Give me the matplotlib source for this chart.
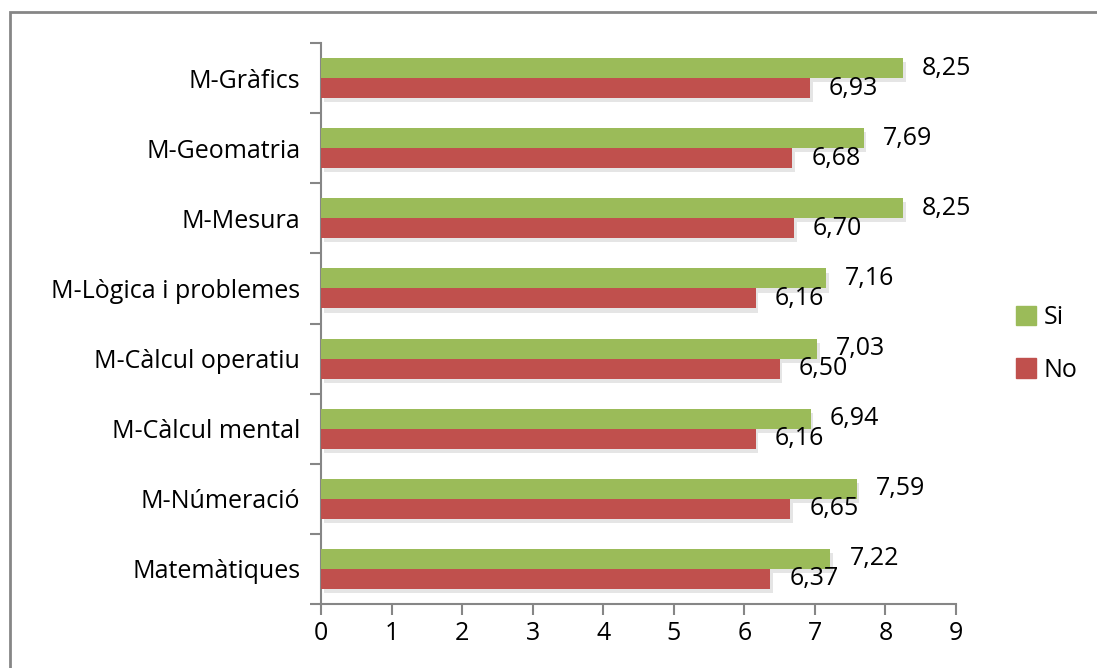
import numpy as np
import matplotlib.pyplot as plt
import matplotlib.patheffects as pe
from matplotlib.patches import Rectangle, Patch

# dades
categories = ['Matemàtiques', 'M-Númeració', 'M-Càlcul mental', 'M-Càlcul operatiu',
              'M-Lògica i problemes', 'M-Mesura', 'M-Geomatria', 'M-Gràfics']
si_values = [7.22, 7.59, 6.94, 7.03, 7.16, 8.25, 7.69, 8.25]
no_values = [6.37, 6.65, 6.16, 6.50, 6.16, 6.70, 6.68, 6.93]
x_ticks = [0, 1, 2, 3, 4, 5, 6, 7, 8, 9]

green = '#9BBB59'
red = '#C0504D'
gray = '#868686'
fs = 18

plt.rcParams['font.family'] = ['Open Sans', 'DejaVu Sans']

fig = plt.figure(figsize=(10.97, 6.68), dpi=100)
fig.patches.append(Rectangle((10 / 1097, -0.1), 1.2, 1 - 12 / 668 + 0.1,
                             transform=fig.transFigure, fill=False,
                             edgecolor=gray, linewidth=2))
ax = fig.add_axes([321 / 1097, 1 - 604 / 668, 635 / 1097, 561 / 668])

y = np.arange(len(categories))
h = 0.285
shadow = [pe.SimplePatchShadow(offset=(2, -3), shadow_rgbFace='#cccccc', alpha=0.5), pe.Normal()]
ax.barh(y + h / 2, si_values, height=h, color=green, path_effects=shadow, zorder=3)
ax.barh(y - h / 2, no_values, height=h, color=red, path_effects=shadow, zorder=3)

for yi, v in zip(y, si_values):
    ax.text(v + 0.27, yi + h / 2, f'{v:.2f}'.replace('.', ','),
            va='center', ha='left', fontsize=fs)
for yi, v in zip(y, no_values):
    ax.text(v + 0.27, yi - h / 2, f'{v:.2f}'.replace('.', ','),
            va='center', ha='left', fontsize=fs)

ax.set_xlim(0, 9)
ax.set_ylim(-0.5, len(categories) - 0.5)
ax.set_xticks(x_ticks)
ax.set_xticklabels([str(t) for t in x_ticks], fontsize=fs)
ax.set_yticks(y)
ax.set_yticklabels(categories, fontsize=fs)
ax.set_yticks(np.arange(-0.5, len(categories)), minor=True)
ax.tick_params(axis='y', which='major', length=0, pad=15)
ax.tick_params(axis='y', which='minor', length=8, color=gray, width=1.5)
ax.tick_params(axis='x', length=8, color=gray, width=1.5, pad=4)

for s in ['top', 'right']:
    ax.spines[s].set_visible(False)
for s in ['left', 'bottom']:
    ax.spines[s].set_color(gray)
    ax.spines[s].set_linewidth(1.5)

handles = [Patch(color=green, label='Si'), Patch(color=red, label='No')]
fig.legend(handles=handles, loc='center left', bbox_to_anchor=(1016 / 1097, 1 - 344 / 668),
           frameon=False, fontsize=fs, handlelength=0.8, handleheight=0.8,
           handletextpad=0.3, labelspacing=1.1, borderpad=0, borderaxespad=0)

fig.savefig('out.png', dpi=100)
